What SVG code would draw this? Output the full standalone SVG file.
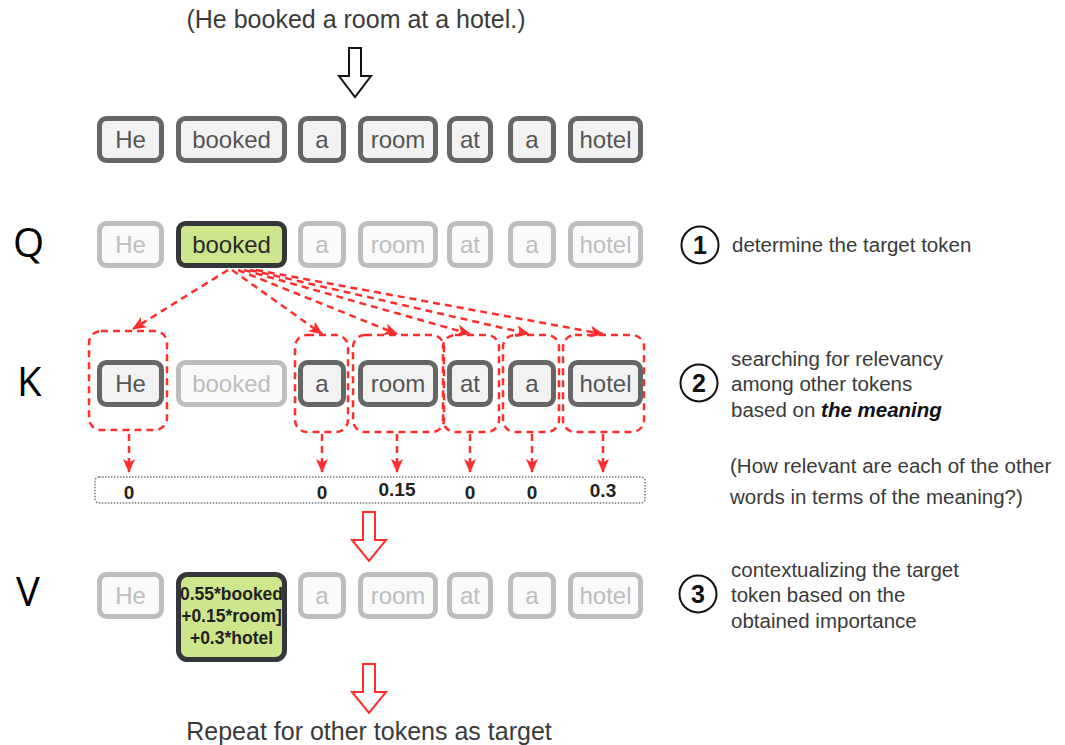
<svg xmlns="http://www.w3.org/2000/svg" width="1065" height="745" viewBox="0 0 1065 745">
  <defs>
    <style>
      .tok { fill: #f2f2f2; stroke: #666; stroke-width: 5; }
      .tok-dim { fill: #fafafa; stroke: #bdbdbd; stroke-width: 5; }
      .tok-hi { fill: #cde68b; stroke: #33363b; stroke-width: 5; }
      .t { font-family: "Liberation Sans", Arial, sans-serif; font-size: 24px; text-anchor: middle; fill: #555; }
      .t-dim { fill: #bdbdbd; }
      .t-hi { fill: #2a2a2a; }
      .sel { fill: none; stroke: #ff2e2e; stroke-width: 2.5; stroke-dasharray: 7 5; }
      .link { fill: none; stroke: #ff2e2e; stroke-width: 2.5; stroke-dasharray: 7 5; }
      .score { font-family: "Liberation Sans", Arial, sans-serif; font-size: 19px; font-weight: bold; text-anchor: middle; fill: #222; }
      .note { font-family: "Liberation Sans", Arial, sans-serif; font-size: 20.5px; fill: #3a3a3a; }
      .big { font-family: "Liberation Sans", Arial, sans-serif; font-size: 25px; fill: #3a3a3a; text-anchor: middle; }
      .qkv { font-family: "Open Sans", "Noto Sans", sans-serif; font-size: 40px; fill: #000; }
      .num { fill: #fff; stroke: #111; stroke-width: 2; }
      .numt { font-family: "Liberation Sans", Arial, sans-serif; font-size: 25px; font-weight: bold; text-anchor: middle; fill: #111; }
      .mix { font-family: "Liberation Sans", Arial, sans-serif; font-size: 17.5px; font-weight: bold; text-anchor: middle; fill: #222; }
    </style>
    <marker id="head" viewBox="0 0 14 12" refX="13" refY="6" markerWidth="14" markerHeight="12" markerUnits="userSpaceOnUse" orient="auto">
      <path d="M0,0 L14,6 L0,12 L3.5,6 z" fill="#ff2e2e"/>
    </marker>
  </defs>

  <rect width="1065" height="745" fill="#fff"/>

  <!-- sentence -->
  <g id="sentence">
    <text class="big" x="356" y="28">(He booked a room at a hotel.)</text>
  </g>

  <!-- hollow block arrows -->
  <g id="arrow-tokenize">
    <path d="M349,48 H361 V76 H371 L355,97 L339,76 H349 Z" fill="#fff" stroke="#111" stroke-width="2"/>
  </g>

  <!-- row 1: tokens -->
  <g id="row-tokens">
    <rect class="tok" x="99.5" y="118.5" width="62" height="42" rx="7"/>
    <text class="t" x="130.5" y="148">He</text>
    <rect class="tok" x="178.5" y="118.5" width="106" height="42" rx="7"/>
    <text class="t" x="231.5" y="148">booked</text>
    <rect class="tok" x="300.5" y="118.5" width="43" height="42" rx="7"/>
    <text class="t" x="322" y="148">a</text>
    <rect class="tok" x="360.5" y="118.5" width="75" height="42" rx="7"/>
    <text class="t" x="398" y="148">room</text>
    <rect class="tok" x="449.5" y="118.5" width="41" height="42" rx="7"/>
    <text class="t" x="470" y="148">at</text>
    <rect class="tok" x="510.5" y="118.5" width="43" height="42" rx="7"/>
    <text class="t" x="532" y="148">a</text>
    <rect class="tok" x="570.5" y="118.5" width="70" height="42" rx="7"/>
    <text class="t" x="605.5" y="148">hotel</text>
  </g>

  <!-- row Q -->
  <g id="row-q">
    <text class="qkv" x="13" y="257">Q</text>
    <rect class="tok-dim" x="99.5" y="223.5" width="62" height="42" rx="7"/>
    <text class="t t-dim" x="130.5" y="253">He</text>
    <rect class="tok-hi" x="178.5" y="223.5" width="106" height="42" rx="7"/>
    <text class="t t-hi" x="231.5" y="253">booked</text>
    <rect class="tok-dim" x="300.5" y="223.5" width="43" height="42" rx="7"/>
    <text class="t t-dim" x="322" y="253">a</text>
    <rect class="tok-dim" x="360.5" y="223.5" width="75" height="42" rx="7"/>
    <text class="t t-dim" x="398" y="253">room</text>
    <rect class="tok-dim" x="449.5" y="223.5" width="41" height="42" rx="7"/>
    <text class="t t-dim" x="470" y="253">at</text>
    <rect class="tok-dim" x="510.5" y="223.5" width="43" height="42" rx="7"/>
    <text class="t t-dim" x="532" y="253">a</text>
    <rect class="tok-dim" x="570.5" y="223.5" width="70" height="42" rx="7"/>
    <text class="t t-dim" x="605.5" y="253">hotel</text>
  </g>

  <!-- row K -->
  <g id="row-k">
    <text class="qkv" x="17" y="396">K</text>
    <rect class="sel" x="89" y="331" width="78" height="99" rx="12"/>
    <rect class="sel" x="295" y="335" width="53" height="97" rx="12"/>
    <rect class="sel" x="353" y="335" width="91" height="97" rx="12"/>
    <rect class="sel" x="443" y="335" width="56" height="97" rx="12"/>
    <rect class="sel" x="503" y="335" width="56" height="97" rx="12"/>
    <rect class="sel" x="563" y="335" width="81" height="97" rx="12"/>
    <rect class="tok" x="99.5" y="362.5" width="62" height="42" rx="7"/>
    <text class="t" x="130.5" y="392">He</text>
    <rect class="tok-dim" x="178.5" y="362.5" width="106" height="42" rx="7"/>
    <text class="t t-dim" x="231.5" y="392">booked</text>
    <rect class="tok" x="300.5" y="362.5" width="43" height="42" rx="7"/>
    <text class="t" x="322" y="392">a</text>
    <rect class="tok" x="360.5" y="362.5" width="75" height="42" rx="7"/>
    <text class="t" x="398" y="392">room</text>
    <rect class="tok" x="449.5" y="362.5" width="41" height="42" rx="7"/>
    <text class="t" x="470" y="392">at</text>
    <rect class="tok" x="510.5" y="362.5" width="43" height="42" rx="7"/>
    <text class="t" x="532" y="392">a</text>
    <rect class="tok" x="570.5" y="362.5" width="70" height="42" rx="7"/>
    <text class="t" x="605.5" y="392">hotel</text>
  </g>

  <!-- relevance scores -->
  <g id="scores">
    <rect x="95" y="477" width="550" height="26" rx="4" fill="#fff" stroke="#777" stroke-width="1.5" stroke-dasharray="1.5 1.5"/>
    <text class="score" x="129" y="499">0</text>
    <text class="score" x="322" y="499">0</text>
    <text class="score" x="397" y="496">0.15</text>
    <text class="score" x="470" y="499">0</text>
    <text class="score" x="532" y="499">0</text>
    <text class="score" x="603" y="497">0.3</text>
  </g>

  <g id="arrow-weights">
    <path d="M363,512 H375 V540 H386 L369,561 L352,540 H363 Z" fill="#fff" stroke="#ff2e2e" stroke-width="2"/>
  </g>

  <!-- row V -->
  <g id="row-v">
    <text class="qkv" x="16" y="606">V</text>
    <rect class="tok-dim" x="99.5" y="574.5" width="62" height="42" rx="7"/>
    <text class="t t-dim" x="130.5" y="604">He</text>
    <rect class="tok-hi" x="178.5" y="574.5" width="106" height="85" rx="9"/>
    <text class="mix" x="231.5" y="600">0.55*booked</text>
    <text class="mix" x="231.5" y="622">+0.15*room]</text>
    <text class="mix" x="231.5" y="644">+0.3*hotel</text>
    <rect class="tok-dim" x="300.5" y="574.5" width="43" height="42" rx="7"/>
    <text class="t t-dim" x="322" y="604">a</text>
    <rect class="tok-dim" x="360.5" y="574.5" width="75" height="42" rx="7"/>
    <text class="t t-dim" x="398" y="604">room</text>
    <rect class="tok-dim" x="449.5" y="574.5" width="41" height="42" rx="7"/>
    <text class="t t-dim" x="470" y="604">at</text>
    <rect class="tok-dim" x="510.5" y="574.5" width="43" height="42" rx="7"/>
    <text class="t t-dim" x="532" y="604">a</text>
    <rect class="tok-dim" x="570.5" y="574.5" width="70" height="42" rx="7"/>
    <text class="t t-dim" x="605.5" y="604">hotel</text>
  </g>

  <g id="arrow-repeat">
    <path d="M363,664 H375 V692 H386 L369,713 L352,692 H363 Z" fill="#fff" stroke="#ff2e2e" stroke-width="2"/>
  </g>

  <g id="repeat-label">
    <text class="big" x="369" y="740">Repeat for other tokens as target</text>
  </g>

  <!-- connectors: query to keys, keys to scores -->
  <g id="connectors">
    <path class="link" d="M228,270 L133,329" marker-end="url(#head)"/>
    <path class="link" d="M232,270 L322,334" marker-end="url(#head)"/>
    <path class="link" d="M238,270 L397,334" marker-end="url(#head)"/>
    <path class="link" d="M244,270 L470,334" marker-end="url(#head)"/>
    <path class="link" d="M250,270 L529,334" marker-end="url(#head)"/>
    <path class="link" d="M256,270 L603,334" marker-end="url(#head)"/>
    <path class="link" d="M129,434 V472" marker-end="url(#head)"/>
    <path class="link" d="M322,434 V472" marker-end="url(#head)"/>
    <path class="link" d="M397,434 V472" marker-end="url(#head)"/>
    <path class="link" d="M470,434 V472" marker-end="url(#head)"/>
    <path class="link" d="M532,434 V472" marker-end="url(#head)"/>
    <path class="link" d="M603,434 V472" marker-end="url(#head)"/>
  </g>

  <!-- step notes -->
  <g id="step-1">
    <circle class="num" cx="700" cy="245" r="18.5"/>
    <text class="numt" x="700" y="254">1</text>
    <text class="note" x="732" y="252">determine the target token</text>
  </g>
  <g id="step-2">
    <circle class="num" cx="699" cy="383" r="18.5"/>
    <text class="numt" x="699" y="392">2</text>
    <text class="note" x="731" y="366">searching for relevancy</text>
    <text class="note" x="731" y="391">among other tokens</text>
    <text class="note" x="731" y="417">based on <tspan font-weight="bold" font-style="italic" fill="#111">the meaning</tspan></text>
    <text class="note" x="730" y="473">(How relevant are each of the other</text>
    <text class="note" x="730" y="504">words in terms of the meaning?)</text>
  </g>
  <g id="step-3">
    <circle class="num" cx="698" cy="594" r="18.5"/>
    <text class="numt" x="698" y="603">3</text>
    <text class="note" x="731" y="577">contextualizing the target</text>
    <text class="note" x="731" y="602">token based on the</text>
    <text class="note" x="731" y="628">obtained importance</text>
  </g>
</svg>
